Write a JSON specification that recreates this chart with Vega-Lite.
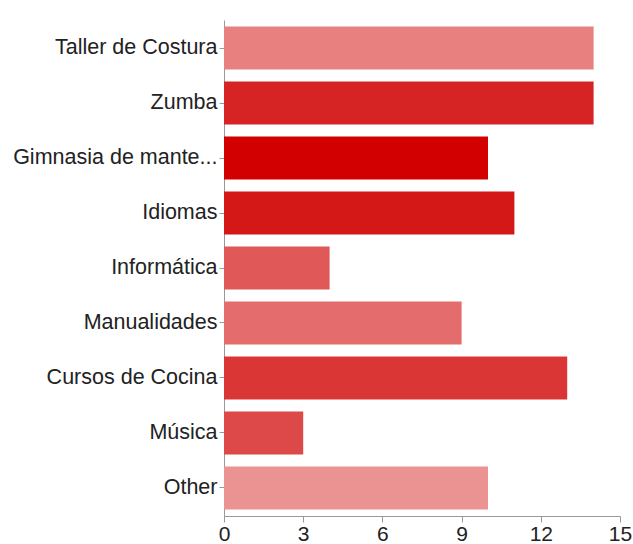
{
  "$schema": "https://vega.github.io/schema/vega-lite/v6.json",
  "width": 396,
  "height": 496,
  "autosize": {"type": "none"},
  "padding": {"left": 224, "top": 20, "right": 13, "bottom": 28},
  "background": "white",
  "config": {"view": {"stroke": null}, "font": "Liberation Sans"},
  "data": {
    "values": [
      {"actividad": "Taller de Costura", "n": 14, "color": "#e88080"},
      {"actividad": "Zumba", "n": 14, "color": "#d62424"},
      {"actividad": "Gimnasia de mante...", "n": 10, "color": "#d20000"},
      {"actividad": "Idiomas", "n": 11, "color": "#d41717"},
      {"actividad": "Informática", "n": 4, "color": "#e05858"},
      {"actividad": "Manualidades", "n": 9, "color": "#e46c6c"},
      {"actividad": "Cursos de Cocina", "n": 13, "color": "#da3636"},
      {"actividad": "Música", "n": 3, "color": "#dd4848"},
      {"actividad": "Other", "n": 10, "color": "#eb9292"}
    ]
  },
  "mark": {"type": "bar"},
  "encoding": {
    "y": {
      "field": "actividad",
      "type": "nominal",
      "sort": null,
      "scale": {"paddingInner": 0.22, "paddingOuter": 0.12},
      "axis": {
        "title": null,
        "labelFontSize": 21.5,
        "labelColor": "#222222",
        "labelPadding": 2,
        "tickSize": 5,
        "tickColor": "#999999",
        "domainColor": "#999999",
        "labelLimit": 300
      }
    },
    "x": {
      "field": "n",
      "type": "quantitative",
      "scale": {"domain": [0, 15], "nice": false},
      "axis": {
        "title": null,
        "values": [0, 3, 6, 9, 12, 15],
        "grid": false,
        "labelFontSize": 21,
        "labelColor": "#222222",
        "labelPadding": 1,
        "tickSize": 6,
        "tickColor": "#999999",
        "domainColor": "#999999",
        "labelFlush": false
      }
    },
    "color": {"field": "color", "type": "nominal", "scale": null, "legend": null}
  }
}
